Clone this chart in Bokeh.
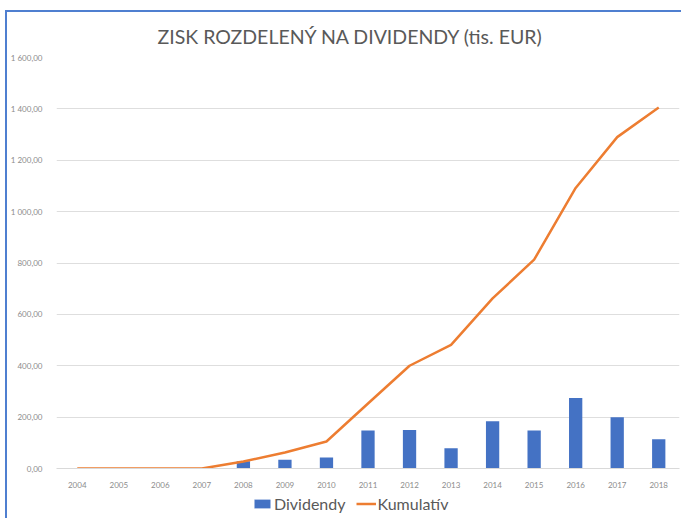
from bokeh.plotting import figure
from bokeh.layouts import column
from bokeh.models import ColumnDataSource, FactorRange, Range1d, FixedTicker, Legend, LegendItem
from bokeh.embed import file_html
from bokeh.resources import INLINE

years = ["2004", "2005", "2006", "2007", "2008", "2009", "2010", "2011",
         "2012", "2013", "2014", "2015", "2016", "2017", "2018"]
dividendy = [0, 0, 0, 0, 28, 34, 43, 148, 150, 79, 184, 148, 274, 200, 114]
kumulativ = [0, 0, 0, 0, 27, 62, 105, 253, 400, 481, 662, 813, 1092, 1290, 1405]
y_ticks = [0, 200, 400, 600, 800, 1000, 1200, 1400, 1600]
y_tick_labels = ["0,00", "200,00", "400,00", "600,00", "800,00",
                 "1 000,00", "1 200,00", "1 400,00", "1 600,00"]
series_names = ["Dividendy", "Kumulatív"]
title_text = "ZISK ROZDELENÝ NA DIVIDENDY (tis. EUR)"

BAR_COLOR = "#4472C4"
LINE_COLOR = "#ED7D31"
FONT = "Lato"

src = ColumnDataSource(dict(year=years, div=dividendy, kum=kumulativ))

p = figure(width=674, height=480, output_backend="svg", toolbar_location=None,
           x_range=FactorRange(factors=years, range_padding=0),
           y_range=Range1d(0, 1600),
           min_border_left=45, min_border_right=2, min_border_top=45, min_border_bottom=24)
p.outline_line_color = None
p.background_fill_color = "white"
p.border_fill_color = "white"

p.title.text = title_text
p.title.align = "left"
p.title.offset = 101
p.title.text_font = FONT
p.title.text_font_size = "19.5px"
p.title.text_font_style = "normal"
p.title.text_color = "#595959"
p.title.standoff = 20

p.vbar(x="year", top="div", width=0.32, source=src,
       fill_color=BAR_COLOR, line_color=None)
p.line(x="year", y="kum", source=src, line_color=LINE_COLOR, line_width=2.5)

# axes
p.yaxis.ticker = FixedTicker(ticks=y_ticks)
p.yaxis.major_label_overrides = {t: l for t, l in zip(y_ticks, y_tick_labels)}
p.yaxis.axis_line_color = None
p.yaxis.major_tick_line_color = None
p.yaxis.minor_tick_line_color = None
p.yaxis.major_label_standoff = 8
p.yaxis.major_label_text_font = FONT
p.yaxis.major_label_text_font_size = "8px"
p.yaxis.major_label_text_color = "#8c8c8c"

p.xaxis.axis_line_color = "#d9d9d9"
p.xaxis.major_tick_line_color = None
p.xaxis.minor_tick_line_color = None
p.xaxis.major_label_standoff = 7
p.xaxis.major_label_text_font = FONT
p.xaxis.major_label_text_font_size = "8px"
p.xaxis.major_label_text_color = "#8c8c8c"

p.xgrid.grid_line_color = None
p.ygrid.grid_line_color = "#dedede"
p.ygrid.grid_line_width = 1

# legend strip: a small figure whose view window lies above all data,
# so its renderers only supply the legend swatches
pl = figure(width=674, height=26, output_backend="svg", toolbar_location=None,
            x_range=FactorRange(factors=years, range_padding=0),
            y_range=Range1d(5000, 6000),
            x_axis_type=None, y_axis_type=None,
            min_border_left=0, min_border_right=0, min_border_top=0, min_border_bottom=0)
pl.outline_line_color = None
pl.grid.visible = False
pl.background_fill_color = "white"
pl.border_fill_color = "white"
leg_bar = pl.vbar(x="year", top="div", width=0.32, source=src,
                  fill_color=BAR_COLOR, line_color=None)
leg_line = pl.line(x="year", y="kum", source=src, line_color=LINE_COLOR, line_width=2.5)

legend = Legend(items=[LegendItem(label=series_names[0], renderers=[leg_bar]),
                       LegendItem(label=series_names[1], renderers=[leg_line])],
                orientation="horizontal", location=(196, 5),
                padding=0, margin=0, spacing=10, glyph_width=20, glyph_height=11,
                label_standoff=2, label_text_font=FONT, label_text_font_size="16px",
                label_text_color="#595959", border_line_color=None,
                background_fill_alpha=0)
pl.add_layout(legend, "center")

layout = column(p, pl, spacing=0)
layout.styles = {"margin-left": "5px", "margin-top": "10px",
                 "border-left": "2px solid #4f7fd0", "border-top": "2px solid #4f7fd0"}

open("out.html", "w").write(file_html(layout, INLINE))
